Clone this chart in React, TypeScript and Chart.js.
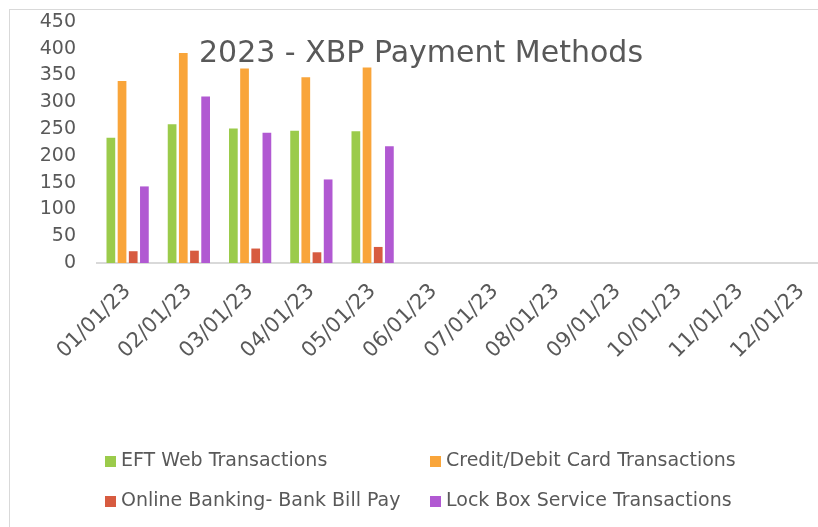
import React, { useEffect, useRef } from "react";
import { Chart, registerables } from "chart.js";

Chart.register(...registerables);

const TITLE = "2023 - XBP Payment Methods";
const categories = [
  "01/01/23", "02/01/23", "03/01/23", "04/01/23", "05/01/23", "06/01/23",
  "07/01/23", "08/01/23", "09/01/23", "10/01/23", "11/01/23", "12/01/23",
];
const seriesNames = [
  "EFT Web Transactions",
  "Credit/Debit Card Transactions",
  "Online Banking- Bank Bill Pay",
  "Lock Box Service Transactions",
];
const eftWeb = [234, 259, 251, 247, 246];
const creditDebit = [340, 392, 363, 347, 365];
const onlineBanking = [22, 23, 27, 20, 30];
const lockBox = [143, 311, 243, 156, 218];
const seriesColors = ["#9BCB4B", "#F9A53A", "#D75B40", "#B159D2"];
const yMin = 0;
const yMax = 450;
const yStep = 50;

const FONT = "'DejaVu Sans'";
const TEXT = "#595959";

const overlayPlugin = {
  id: "overlay",
  afterDraw(chart: any) {
    const ctx = chart.ctx;
    ctx.save();
    ctx.fillStyle = TEXT;
    ctx.font = `30px ${FONT}`;
    ctx.textAlign = "center";
    ctx.textBaseline = "alphabetic";
    ctx.fillText(TITLE, 421, 62);
    const cols = [105, 430];
    const rows = [461, 501];
    chart.data.datasets.forEach((ds: any, i: number) => {
      const x = cols[i % 2];
      const y = rows[Math.floor(i / 2)];
      ctx.fillStyle = ds.backgroundColor;
      ctx.fillRect(x, y - 5, 11, 11);
      ctx.fillStyle = TEXT;
      ctx.font = `19px ${FONT}`;
      ctx.textAlign = "left";
      ctx.textBaseline = "middle";
      ctx.fillText(ds.label, x + 16, y);
    });
    ctx.restore();
  },
};

export default function App() {
  const ref = useRef<HTMLCanvasElement | null>(null);
  useEffect(() => {
    if (!ref.current) return;
    const series = [eftWeb, creditDebit, onlineBanking, lockBox];
    const chart = new Chart(ref.current, {
      type: "bar",
      data: {
        labels: categories,
        datasets: series.map((d, i) => ({
          label: seriesNames[i],
          data: d,
          backgroundColor: seriesColors[i],
          borderWidth: 0,
          barPercentage: 0.78,
          categoryPercentage: 0.73,
        })),
      },
      options: {
        responsive: false,
        animation: false,
        devicePixelRatio: 1,
        layout: { padding: { left: 0, top: 22, right: 8, bottom: 0 } },
        plugins: {
          legend: { display: false },
          title: { display: false },
          tooltip: { enabled: false },
        },
        scales: {
          x: {
            grid: { display: false, drawTicks: false },
            border: { display: true, color: "#D9D9D9", width: 2 },
            ticks: {
              color: TEXT,
              font: { family: FONT, size: 21 },
              minRotation: 45,
              maxRotation: 45,
              padding: 16,
              autoSkip: false,
            },
            afterFit(scale: any) {
              scale.height = 264;
            },
          },
          y: {
            min: yMin,
            max: yMax,
            grid: { display: false, drawTicks: true, tickLength: 21 },
            border: { display: false },
            ticks: {
              stepSize: yStep,
              color: TEXT,
              font: { family: FONT, size: 19 },
              padding: 0,
              autoSkip: false,
            },
            afterFit(scale: any) {
              scale.width = 97;
            },
          },
        },
      },
      plugins: [overlayPlugin],
    });
    return () => chart.destroy();
  }, []);

  return (
    <div
      style={{
        position: "fixed",
        left: 0,
        top: 0,
        width: 818,
        height: 527,
        overflow: "hidden",
        background: "#fff",
      }}
    >
      <div
        style={{
          position: "absolute",
          left: 9,
          top: 9,
          width: 900,
          height: 600,
          border: "1px solid #D9D9D9",
        }}
      />
      <canvas
        ref={ref}
        width={840}
        height={527}
        style={{ position: "absolute", left: 0, top: 0 }}
      />
    </div>
  );
}
